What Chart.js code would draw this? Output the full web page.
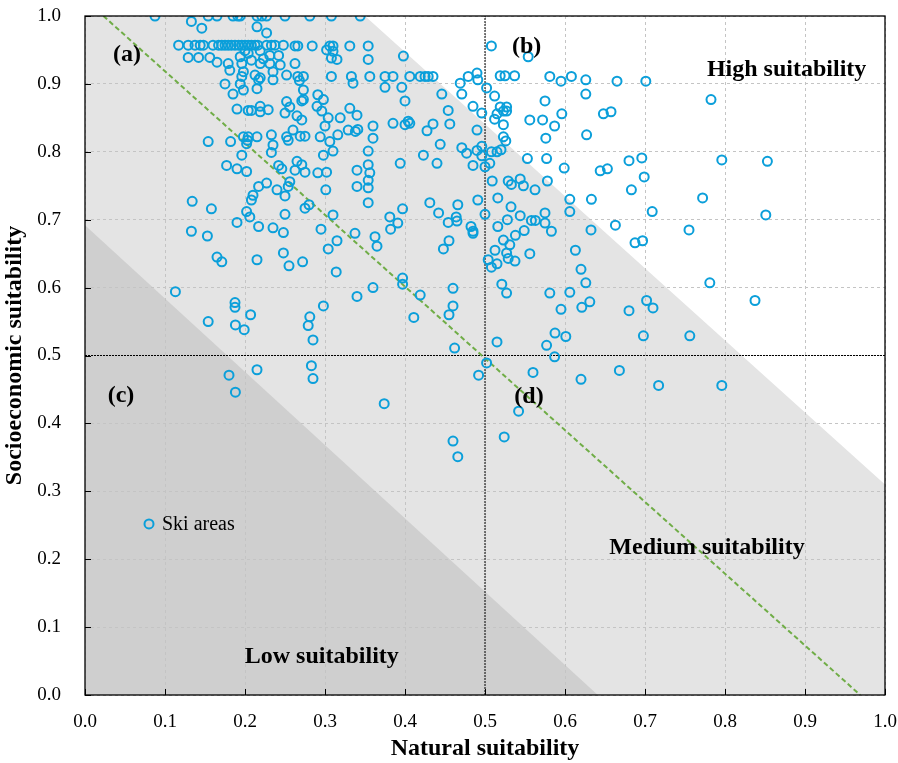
<!DOCTYPE html>
<html>
<head>
<meta charset="utf-8">
<script src="https://cdn.jsdelivr.net/npm/chart.js@4.4.0/dist/chart.umd.min.js"></script>
<style>
  html, body { margin: 0; padding: 0; background: #fff; }
</style>
</head>
<body>
<canvas id="myChart" width="898" height="763"></canvas>
<script>
// ski areas, [natural suitability, socioeconomic suitability]
const upperLeft = [
  [0.0875, 1.0], [0.154, 1.0], [0.165, 1.0], [0.185, 1.0], [0.191, 1.0], [0.194, 1.0], [0.215, 1.0], [0.221, 1.0], [0.227, 1.0], [0.25, 1.0],
  [0.133, 0.992], [0.146, 0.982], [0.215, 0.984], [0.227, 0.975],
  [0.117, 0.957], [0.129, 0.957], [0.1375, 0.957], [0.144, 0.957], [0.148, 0.957], [0.16, 0.957], [0.167, 0.957], [0.171, 0.957],
  [0.175, 0.957], [0.179, 0.957], [0.183, 0.957], [0.1875, 0.957], [0.192, 0.957], [0.196, 0.957], [0.2, 0.957], [0.204, 0.957],
  [0.208, 0.957], [0.2125, 0.957], [0.216, 0.957], [0.227, 0.957], [0.233, 0.957], [0.2375, 0.957], [0.248, 0.957],
  [0.129, 0.939], [0.142, 0.939], [0.156, 0.939], [0.165, 0.932], [0.179, 0.93], [0.181, 0.92],
  [0.194, 0.94], [0.2, 0.949], [0.204, 0.945], [0.208, 0.935], [0.196, 0.93],
  [0.219, 0.949], [0.223, 0.937], [0.231, 0.942], [0.242, 0.942], [0.231, 0.93], [0.244, 0.928], [0.235, 0.918], [0.219, 0.93],
  [0.252, 0.913], [0.198, 0.918], [0.196, 0.911], [0.2125, 0.913], [0.217, 0.906], [0.219, 0.909],
  [0.175, 0.9], [0.194, 0.9], [0.198, 0.891], [0.215, 0.893], [0.235, 0.906], [0.185, 0.885],
  [0.19, 0.863], [0.204, 0.861], [0.208, 0.861], [0.219, 0.867], [0.219, 0.859], [0.229, 0.862], [0.252, 0.874], [0.25, 0.857], [0.256, 0.866],
  [0.154, 0.815], [0.182, 0.815], [0.198, 0.822], [0.204, 0.822], [0.203, 0.817], [0.202, 0.812], [0.215, 0.822], [0.196, 0.795],
  [0.233, 0.825], [0.235, 0.81], [0.233, 0.799], [0.252, 0.822], [0.254, 0.817],
  [0.177, 0.78], [0.19, 0.775], [0.202, 0.771], [0.242, 0.78], [0.246, 0.775],
];
const upperMid = [
  [0.281, 1.0], [0.308, 1.0], [0.344, 1.0],
  [0.2625, 0.956], [0.266, 0.956], [0.284, 0.956], [0.306, 0.956], [0.31, 0.956], [0.331, 0.956], [0.354, 0.956],
  [0.302, 0.95], [0.31, 0.948], [0.308, 0.938], [0.315, 0.936], [0.354, 0.936], [0.398, 0.941], [0.2625, 0.93],
  [0.266, 0.911], [0.273, 0.911], [0.308, 0.911], [0.333, 0.911], [0.356, 0.911], [0.375, 0.911], [0.385, 0.911],
  [0.406, 0.911], [0.419, 0.911], [0.425, 0.911], [0.429, 0.911], [0.435, 0.911],
  [0.268, 0.905], [0.335, 0.901], [0.273, 0.891], [0.271, 0.875], [0.273, 0.877], [0.375, 0.895], [0.396, 0.895],
  [0.469, 0.901], [0.479, 0.911], [0.49, 0.916], [0.491, 0.906], [0.471, 0.885], [0.502, 0.894],
  [0.446, 0.885], [0.291, 0.884], [0.298, 0.877],
  [0.29, 0.867], [0.296, 0.86], [0.331, 0.864], [0.34, 0.854], [0.4, 0.875], [0.454, 0.861], [0.485, 0.867], [0.496, 0.857],
  [0.265, 0.853], [0.271, 0.847], [0.304, 0.85], [0.319, 0.85],
  [0.385, 0.842], [0.4, 0.84], [0.404, 0.845], [0.406, 0.842], [0.435, 0.841], [0.456, 0.841],
  [0.26, 0.832], [0.3, 0.838], [0.329, 0.832], [0.338, 0.83], [0.341, 0.833], [0.36, 0.838], [0.36, 0.82], [0.4275, 0.831], [0.49, 0.832],
  [0.269, 0.823], [0.275, 0.823], [0.294, 0.822], [0.306, 0.815], [0.316, 0.825],
  [0.444, 0.811], [0.471, 0.806], [0.477, 0.798], [0.49, 0.802], [0.496, 0.808], [0.496, 0.794],
  [0.298, 0.795], [0.31, 0.801], [0.354, 0.801], [0.423, 0.795], [0.44, 0.783], [0.394, 0.783],
  [0.265, 0.786], [0.271, 0.781], [0.354, 0.781], [0.485, 0.78],
  [0.2625, 0.773], [0.275, 0.77], [0.291, 0.769], [0.302, 0.77], [0.34, 0.773], [0.356, 0.769], [0.354, 0.758],
];
const upperRight = [
  [0.508, 0.956], [0.554, 0.94], [0.519, 0.912], [0.525, 0.912], [0.537, 0.912], [0.581, 0.911], [0.595, 0.904],
  [0.608, 0.911], [0.626, 0.906], [0.665, 0.904], [0.701, 0.904],
  [0.512, 0.882], [0.575, 0.875], [0.626, 0.885], [0.7825, 0.877],
  [0.519, 0.866], [0.527, 0.866], [0.523, 0.86], [0.527, 0.86], [0.515, 0.856],
  [0.512, 0.848], [0.523, 0.84], [0.556, 0.847], [0.572, 0.847], [0.587, 0.838], [0.596, 0.856], [0.648, 0.856], [0.6575, 0.859],
  [0.523, 0.822], [0.526, 0.816], [0.576, 0.82], [0.627, 0.825],
  [0.508, 0.8], [0.515, 0.8], [0.52, 0.803], [0.506, 0.783], [0.5, 0.778],
  [0.553, 0.79], [0.577, 0.79], [0.599, 0.776], [0.644, 0.772], [0.653, 0.775], [0.68, 0.787], [0.696, 0.791],
  [0.699, 0.763], [0.683, 0.744], [0.796, 0.788], [0.853, 0.786],
  [0.509, 0.757], [0.529, 0.757], [0.533, 0.752], [0.544, 0.76], [0.548, 0.75], [0.5625, 0.744], [0.578, 0.757],
  [0.516, 0.732], [0.5325, 0.719], [0.544, 0.706], [0.528, 0.7], [0.516, 0.69],
  [0.558, 0.699], [0.563, 0.699], [0.575, 0.71], [0.575, 0.695], [0.583, 0.683], [0.549, 0.684], [0.538, 0.677],
  [0.606, 0.73], [0.633, 0.73], [0.606, 0.712], [0.6325, 0.685], [0.663, 0.692], [0.709, 0.712], [0.772, 0.732],
  [0.755, 0.685], [0.851, 0.707],
  [0.523, 0.67], [0.531, 0.663], [0.6875, 0.666], [0.697, 0.669],
];
const middleLeft = [
  [0.134, 0.727], [0.158, 0.716], [0.227, 0.754], [0.217, 0.749], [0.21, 0.736], [0.208, 0.729], [0.24, 0.744],
  [0.202, 0.712], [0.206, 0.704], [0.19, 0.696], [0.217, 0.69], [0.235, 0.688], [0.133, 0.683], [0.153, 0.676],
  [0.165, 0.645], [0.171, 0.638], [0.215, 0.641], [0.113, 0.594], [0.1875, 0.578], [0.1875, 0.571], [0.207, 0.56],
  [0.154, 0.55], [0.188, 0.545], [0.199, 0.538],
];
const middleMid = [
  [0.256, 0.756], [0.254, 0.749], [0.25, 0.735], [0.301, 0.744], [0.34, 0.749], [0.354, 0.747], [0.354, 0.725],
  [0.275, 0.717], [0.28, 0.722], [0.25, 0.708], [0.31, 0.707], [0.295, 0.686], [0.248, 0.681], [0.248, 0.651],
  [0.3375, 0.68], [0.3625, 0.675], [0.365, 0.661], [0.315, 0.669], [0.304, 0.657],
  [0.381, 0.704], [0.391, 0.695], [0.382, 0.686], [0.397, 0.716], [0.431, 0.725], [0.442, 0.71], [0.466, 0.722],
  [0.454, 0.696], [0.464, 0.704], [0.465, 0.698], [0.4825, 0.69], [0.485, 0.683], [0.485, 0.68], [0.491, 0.729],
  [0.5, 0.708], [0.455, 0.669], [0.448, 0.657],
  [0.272, 0.638], [0.255, 0.632], [0.314, 0.623], [0.397, 0.614], [0.397, 0.605], [0.36, 0.6], [0.34, 0.587],
  [0.419, 0.589], [0.46, 0.599], [0.298, 0.573], [0.46, 0.573], [0.455, 0.56], [0.411, 0.556], [0.281, 0.557],
  [0.279, 0.544], [0.285, 0.523],
];
const lowerRight = [
  [0.5125, 0.655], [0.527, 0.651], [0.529, 0.643], [0.5375, 0.639], [0.508, 0.63], [0.515, 0.635], [0.504, 0.641],
  [0.556, 0.65], [0.613, 0.655],
  [0.62, 0.627], [0.626, 0.607], [0.521, 0.605], [0.527, 0.592], [0.581, 0.592], [0.606, 0.593], [0.595, 0.568],
  [0.621, 0.571], [0.631, 0.579],
  [0.515, 0.52], [0.577, 0.515], [0.5875, 0.533], [0.601, 0.528], [0.587, 0.498], [0.68, 0.566], [0.702, 0.581],
  [0.71, 0.57], [0.698, 0.529], [0.756, 0.529], [0.781, 0.607], [0.8375, 0.581],
  [0.502, 0.489], [0.56, 0.475], [0.62, 0.465], [0.668, 0.478], [0.717, 0.456], [0.796, 0.456], [0.542, 0.418], [0.524, 0.38],
];
const lowerLeft = [
  [0.462, 0.511], [0.492, 0.471], [0.18, 0.471], [0.188, 0.446], [0.215, 0.479], [0.283, 0.485], [0.285, 0.466],
  [0.374, 0.429], [0.46, 0.374], [0.466, 0.351],
];

// zone boundaries and guide lines
const mediumZone = [[0, 1], [0.35, 1], [1, 0.31]];
const lowZone = [[0, 0.692], [0.641, 0]];
const balanceLine = [[0.023, 1], [0.969, 0]];
const naturalMid = [[0.5, 0], [0.5, 1]];
const socioMid = [[0, 0.5], [1, 0.5]];

const tickValues = [0, 0.1, 0.2, 0.3, 0.4, 0.5, 0.6, 0.7, 0.8, 0.9, 1.0];

const SERIF = '"Liberation Serif", "Times New Roman", serif';

const skiAreas = [].concat(upperLeft, upperMid, upperRight, middleLeft, middleMid, lowerRight, lowerLeft);
const toPoints = (pairs) => pairs.map((p) => ({x: p[0], y: p[1]}));

const labels = [
  {text: '(a)', x: 0.0525, y: 0.943, size: 24, bold: true},
  {text: '(b)', x: 0.552, y: 0.955, size: 24, bold: true},
  {text: '(c)', x: 0.045, y: 0.44, size: 24, bold: true},
  {text: '(d)', x: 0.555, y: 0.439, size: 24, bold: true},
  {text: 'High suitability', x: 0.877, y: 0.921, size: 24, bold: true},
  {text: 'Medium suitability', x: 0.7775, y: 0.2165, size: 24, bold: true},
  {text: 'Low suitability', x: 0.296, y: 0.056, size: 24, bold: true},
];

const framePlugin = {
  id: 'frame',
  afterDatasetsDraw(chart) {
    const {ctx, chartArea: a, scales} = chart;
    ctx.save();
    // inward tick marks on left and bottom
    ctx.strokeStyle = '#000';
    ctx.lineWidth = 1;
    tickValues.forEach((v) => {
      const py = Math.round(scales.y.getPixelForValue(v)) + 0.5;
      ctx.beginPath(); ctx.moveTo(a.left, py); ctx.lineTo(a.left + 6, py); ctx.stroke();
      const px = Math.round(scales.x.getPixelForValue(v)) + 0.5;
      ctx.beginPath(); ctx.moveTo(px, a.bottom); ctx.lineTo(px, a.bottom - 6); ctx.stroke();
    });
    ctx.lineWidth = 1.3;
    ctx.strokeRect(a.left, a.top, a.right - a.left, a.bottom - a.top);

    // text labels
    ctx.fillStyle = '#000';
    ctx.textAlign = 'center';
    ctx.textBaseline = 'middle';
    labels.forEach((l) => {
      ctx.font = (l.bold ? 'bold ' : '') + l.size + 'px ' + SERIF;
      ctx.fillText(l.text, scales.x.getPixelForValue(l.x), scales.y.getPixelForValue(l.y));
    });

    // legend inside the plot
    const lx = scales.x.getPixelForValue(0.08);
    const ly = scales.y.getPixelForValue(0.252);
    ctx.strokeStyle = '#0B9FDA';
    ctx.lineWidth = 2;
    ctx.beginPath(); ctx.arc(lx, ly, 4.5, 0, Math.PI * 2); ctx.stroke();
    ctx.textAlign = 'left';
    ctx.font = '20px ' + SERIF;
    ctx.fillText('Ski areas', lx + 13, ly + 1);
    ctx.restore();
  },
};

const data = {
  datasets: [
    {
      label: 'Ski areas',
      type: 'scatter',
      data: toPoints(skiAreas),
      borderColor: '#0B9FDA',
      backgroundColor: 'rgba(0,0,0,0)',
      pointRadius: 4.5,
      pointHoverRadius: 4.5,
      pointBorderWidth: 2,
      clip: 0,
      order: 0,
    },
    {
      label: 'balance',
      type: 'line',
      data: toPoints(balanceLine),
      borderColor: '#70AD47',
      borderWidth: 2,
      borderDash: [5, 3],
      pointRadius: 0,
      fill: false,
      order: 1,
    },
    {
      label: 'natural 0.5',
      type: 'line',
      data: toPoints(naturalMid),
      borderColor: '#000',
      borderWidth: 1,
      borderDash: [2, 1],
      pointRadius: 0,
      fill: false,
      order: 1,
    },
    {
      label: 'socio 0.5',
      type: 'line',
      data: toPoints(socioMid),
      borderColor: '#000',
      borderWidth: 1,
      borderDash: [2, 1],
      pointRadius: 0,
      fill: false,
      order: 1,
    },
    {
      label: 'low',
      type: 'line',
      data: toPoints(lowZone),
      borderWidth: 0,
      borderColor: 'rgba(0,0,0,0)',
      backgroundColor: '#cfcfcf',
      pointRadius: 0,
      fill: 'origin',
      order: 2,
    },
    {
      label: 'medium',
      type: 'line',
      data: toPoints(mediumZone),
      borderWidth: 0,
      borderColor: 'rgba(0,0,0,0)',
      backgroundColor: '#e4e4e4',
      pointRadius: 0,
      fill: 'origin',
      order: 3,
    },
  ],
};

const axisTicks = {
  stepSize: 0.1,
  color: '#000',
  font: {family: SERIF, size: 19},
  callback: (v) => v.toFixed(1),
};

const config = {
  type: 'scatter',
  data: data,
  options: {
    responsive: false,
    animation: false,
    events: [],
    layout: {padding: {top: 16, right: 13, left: 0, bottom: 0}},
    plugins: {
      legend: {display: false},
      tooltip: {enabled: false},
      filler: {drawTime: 'beforeDraw'},
    },
    scales: {
      x: {
        type: 'linear',
        min: 0,
        max: 1,
        ticks: Object.assign({padding: 16}, axisTicks),
        grid: {color: '#c4c4c4', lineWidth: 1, drawTicks: false},
        border: {display: false, dash: [3, 3]},
        title: {
          display: true,
          text: 'Natural suitability',
          color: '#000',
          font: {family: SERIF, size: 24, weight: 'bold'},
          padding: {top: 0, bottom: 0},
        },
        afterFit: (s) => {
          s.height = 68;
          s.paddingLeft = 0;
          s.paddingRight = 0;
        },
      },
      y: {
        type: 'linear',
        min: 0,
        max: 1,
        ticks: Object.assign({padding: 24}, axisTicks),
        grid: {color: '#c4c4c4', lineWidth: 1, drawTicks: false},
        border: {display: false, dash: [3, 3]},
        title: {
          display: true,
          text: 'Socioeconomic suitability',
          color: '#000',
          font: {family: SERIF, size: 24, weight: 'bold'},
          padding: {top: 0, bottom: 0},
        },
        afterFit: (s) => {
          s.width = 85;
          s.paddingTop = 0;
          s.paddingBottom = 0;
        },
      },
    },
  },
  plugins: [framePlugin],
};

const myChart = new Chart(document.getElementById('myChart'), config);
</script>
</body>
</html>
